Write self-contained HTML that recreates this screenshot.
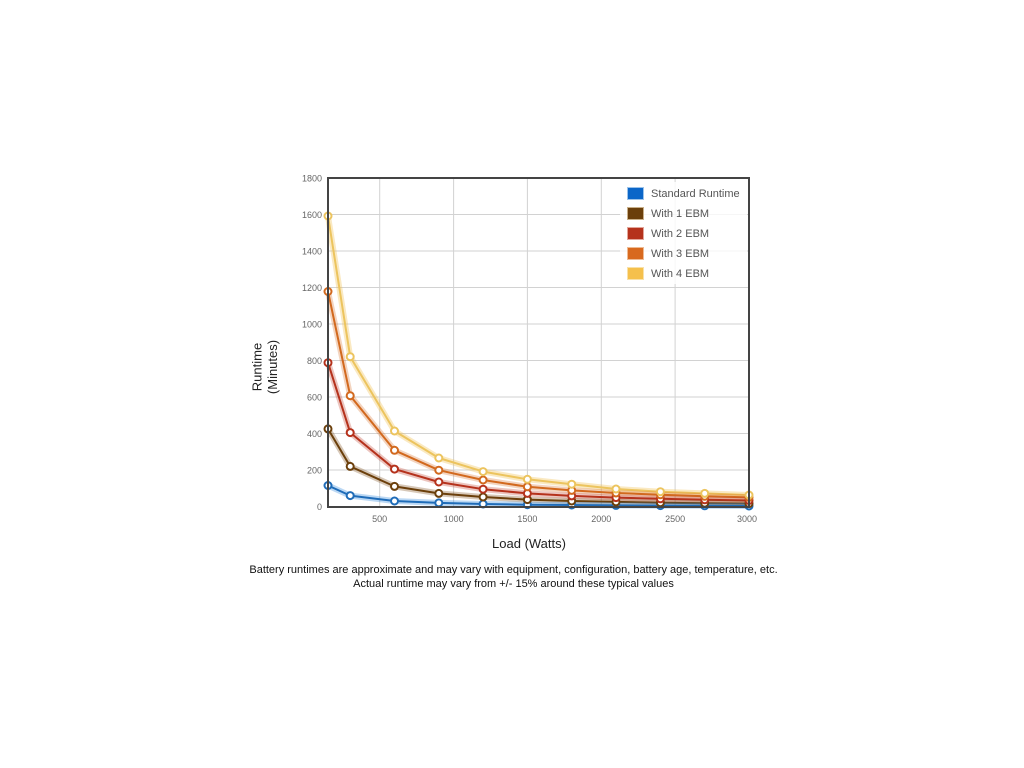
<!DOCTYPE html>
<html><head><meta charset="utf-8"><style>
html,body{margin:0;padding:0;background:#fff;width:1024px;height:768px;overflow:hidden}
svg{display:block}
text{font-family:"Liberation Sans",Arial,sans-serif}
</style></head><body>
<svg width="1024" height="768" viewBox="0 0 1024 768" xmlns="http://www.w3.org/2000/svg">
<rect width="1024" height="768" fill="#fff"/>
<!-- grid -->
<g stroke="#d2d2d2" stroke-width="1">
<line x1="379.7" y1="178" x2="379.7" y2="507"/>
<line x1="453.6" y1="178" x2="453.6" y2="507"/>
<line x1="527.4" y1="178" x2="527.4" y2="507"/>
<line x1="601.3" y1="178" x2="601.3" y2="507"/>
<line x1="675.1" y1="178" x2="675.1" y2="507"/>
<line x1="328" y1="470" x2="749" y2="470"/>
<line x1="328" y1="433.5" x2="749" y2="433.5"/>
<line x1="328" y1="397" x2="749" y2="397"/>
<line x1="328" y1="360.5" x2="749" y2="360.5"/>
<line x1="328" y1="324" x2="749" y2="324"/>
<line x1="328" y1="287.5" x2="749" y2="287.5"/>
<line x1="328" y1="251" x2="749" y2="251"/>
<line x1="328" y1="214.5" x2="749" y2="214.5"/>
</g>
<!-- legend bg -->
<rect x="620" y="182" width="127" height="102" fill="#fff" fill-opacity="0.8"/>
<!-- series -->
<g fill="none" stroke-linejoin="round" stroke-linecap="round">
<!-- 4 EBM -->
<polyline stroke="#f0c050" stroke-opacity="0.35" stroke-width="6" points="328,216 350.2,356.7 394.5,431 438.8,458 483.1,471.6 527.4,479.3 571.7,484.2 616,489 660.4,491.7 704.7,493.4 749,495"/>
<polyline stroke="#ecc45e" stroke-width="2" points="328,216 350.2,356.7 394.5,431 438.8,458 483.1,471.6 527.4,479.3 571.7,484.2 616,489 660.4,491.7 704.7,493.4 749,495"/>
<!-- 3 EBM -->
<polyline stroke="#d8702a" stroke-opacity="0.3" stroke-width="6" points="328,291.5 350.2,395.7 394.5,450.3 438.8,470.2 483.1,480 527.4,486.8 571.7,490.4 616,493 660.4,494.8 704.7,496.3 749,497.4"/>
<polyline stroke="#d2691e" stroke-width="2" points="328,291.5 350.2,395.7 394.5,450.3 438.8,470.2 483.1,480 527.4,486.8 571.7,490.4 616,493 660.4,494.8 704.7,496.3 749,497.4"/>
<!-- 2 EBM -->
<polyline stroke="#c0402a" stroke-opacity="0.3" stroke-width="6" points="328,362.7 350.2,432.6 394.5,469.1 438.8,482 483.1,489.2 527.4,493.4 571.7,495.9 616,497.6 660.4,498.8 704.7,499.8 749,500.5"/>
<polyline stroke="#b5321c" stroke-width="2" points="328,362.7 350.2,432.6 394.5,469.1 438.8,482 483.1,489.2 527.4,493.4 571.7,495.9 616,497.6 660.4,498.8 704.7,499.8 749,500.5"/>
<!-- 1 EBM -->
<polyline stroke="#7a4a14" stroke-opacity="0.3" stroke-width="6" points="328,428.9 350.2,466.4 394.5,486.4 438.8,493.4 483.1,497 527.4,499.6 571.7,501 616,501.9 660.4,502.7 704.7,503.2 749,503.6"/>
<polyline stroke="#6b3f0b" stroke-width="2" points="328,428.9 350.2,466.4 394.5,486.4 438.8,493.4 483.1,497 527.4,499.6 571.7,501 616,501.9 660.4,502.7 704.7,503.2 749,503.6"/>
<!-- Standard -->
<polyline stroke="#3b8fe0" stroke-opacity="0.35" stroke-width="6" points="328,485.5 350.2,495.6 394.5,501 438.8,502.9 483.1,504 527.4,504.7 571.7,505 616,505.4 660.4,505.6 704.7,505.8 749,506"/>
<polyline stroke="#1f6cb8" stroke-width="2" points="328,485.5 350.2,495.6 394.5,501 438.8,502.9 483.1,504 527.4,504.7 571.7,505 616,505.4 660.4,505.6 704.7,505.8 749,506"/>
</g>
<!-- markers -->
<g fill="#fff" stroke-width="2">
<g stroke="#1f6cb8">
<circle cx="328" cy="485.5" r="3.5"/><circle cx="350.2" cy="495.6" r="3.5"/><circle cx="394.5" cy="501" r="3.5"/><circle cx="438.8" cy="502.9" r="3.5"/><circle cx="483.1" cy="504" r="3.5"/><circle cx="527.4" cy="504.7" r="3.5"/><circle cx="571.7" cy="505" r="3.5"/><circle cx="616" cy="505.4" r="3.5"/><circle cx="660.4" cy="505.6" r="3.5"/><circle cx="704.7" cy="505.8" r="3.5"/><circle cx="749" cy="506" r="3.5"/>
</g>
<g stroke="#6b3f0b">
<circle cx="328" cy="428.9" r="3.5"/><circle cx="350.2" cy="466.4" r="3.5"/><circle cx="394.5" cy="486.4" r="3.5"/><circle cx="438.8" cy="493.4" r="3.5"/><circle cx="483.1" cy="497" r="3.5"/><circle cx="527.4" cy="499.6" r="3.5"/><circle cx="571.7" cy="501" r="3.5"/><circle cx="616" cy="501.9" r="3.5"/><circle cx="660.4" cy="502.7" r="3.5"/><circle cx="704.7" cy="503.2" r="3.5"/><circle cx="749" cy="503.6" r="3.5"/>
</g>
<g stroke="#b5321c">
<circle cx="328" cy="362.7" r="3.5"/><circle cx="350.2" cy="432.6" r="3.5"/><circle cx="394.5" cy="469.1" r="3.5"/><circle cx="438.8" cy="482" r="3.5"/><circle cx="483.1" cy="489.2" r="3.5"/><circle cx="527.4" cy="493.4" r="3.5"/><circle cx="571.7" cy="495.9" r="3.5"/><circle cx="616" cy="497.6" r="3.5"/><circle cx="660.4" cy="498.8" r="3.5"/><circle cx="704.7" cy="499.8" r="3.5"/><circle cx="749" cy="500.5" r="3.5"/>
</g>
<g stroke="#d2691e">
<circle cx="328" cy="291.5" r="3.5"/><circle cx="350.2" cy="395.7" r="3.5"/><circle cx="394.5" cy="450.3" r="3.5"/><circle cx="438.8" cy="470.2" r="3.5"/><circle cx="483.1" cy="480" r="3.5"/><circle cx="527.4" cy="486.8" r="3.5"/><circle cx="571.7" cy="490.4" r="3.5"/><circle cx="616" cy="493" r="3.5"/><circle cx="660.4" cy="494.8" r="3.5"/><circle cx="704.7" cy="496.3" r="3.5"/><circle cx="749" cy="497.4" r="3.5"/>
</g>
<g stroke="#ecc45e">
<circle cx="328" cy="216" r="3.5"/><circle cx="350.2" cy="356.7" r="3.5"/><circle cx="394.5" cy="431" r="3.5"/><circle cx="438.8" cy="458" r="3.5"/><circle cx="483.1" cy="471.6" r="3.5"/><circle cx="527.4" cy="479.3" r="3.5"/><circle cx="571.7" cy="484.2" r="3.5"/><circle cx="616" cy="489" r="3.5"/><circle cx="660.4" cy="491.7" r="3.5"/><circle cx="704.7" cy="493.4" r="3.5"/><circle cx="749" cy="495" r="3.5"/>
</g>
</g>
<!-- frame -->
<rect x="328" y="178" width="421" height="329" fill="none" stroke="#444" stroke-width="2"/>
<!-- legend -->
<g stroke-width="1">
<rect x="627.5" y="187.5" width="16" height="12" fill="#0b66c8" stroke="#9cc3ea"/>
<rect x="627.5" y="207.5" width="16" height="12" fill="#6b3f0b" stroke="#c9b08a"/>
<rect x="627.5" y="227.5" width="16" height="12" fill="#b5321c" stroke="#e3a69a"/>
<rect x="627.5" y="247.5" width="16" height="12" fill="#d8691e" stroke="#efbb93"/>
<rect x="627.5" y="267.5" width="16" height="12" fill="#f5c04c" stroke="#f9e1a8"/>
</g>
<g font-size="11" fill="#555">
<text x="651" y="197">Standard Runtime</text>
<text x="651" y="217">With 1 EBM</text>
<text x="651" y="237">With 2 EBM</text>
<text x="651" y="257">With 3 EBM</text>
<text x="651" y="277">With 4 EBM</text>
</g>
<!-- y ticks -->
<g font-size="9" fill="#666" text-anchor="end">
<text x="322" y="181.5">1800</text>
<text x="322" y="218">1600</text>
<text x="322" y="254.5">1400</text>
<text x="322" y="291">1200</text>
<text x="322" y="327.5">1000</text>
<text x="322" y="364">800</text>
<text x="322" y="400.5">600</text>
<text x="322" y="437">400</text>
<text x="322" y="473.5">200</text>
<text x="322" y="510">0</text>
</g>
<!-- x ticks -->
<g font-size="9" fill="#666" text-anchor="middle">
<text x="379.7" y="522">500</text>
<text x="453.6" y="522">1000</text>
<text x="527.4" y="522">1500</text>
<text x="601.3" y="522">2000</text>
<text x="675.1" y="522">2500</text>
<text x="747" y="522">3000</text>
</g>
<!-- axis titles -->
<g font-size="13" fill="#222" text-anchor="middle">
<text transform="translate(261.5,367) rotate(-90)">Runtime</text>
<text transform="translate(277,367) rotate(-90)">(Minutes)</text>
<text x="529" y="548">Load (Watts)</text>
</g>
<!-- caption -->
<g font-size="11" fill="#111" text-anchor="middle">
<text x="513.5" y="573">Battery runtimes are approximate and may vary with equipment, configuration, battery age, temperature, etc.</text>
<text x="513.5" y="587">Actual runtime may vary from +/- 15% around these typical values</text>
</g>
</svg>
</body></html>
